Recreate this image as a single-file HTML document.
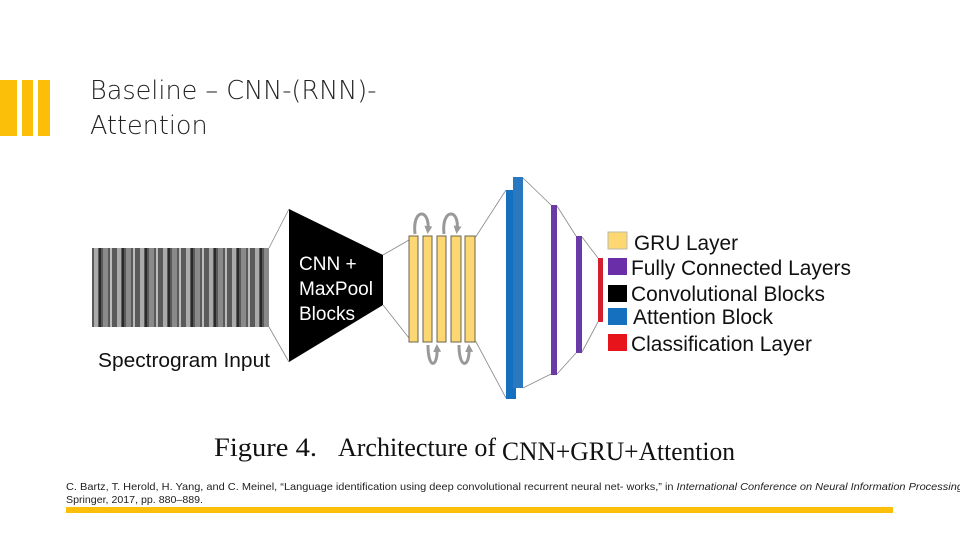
<!DOCTYPE html>
<html><head><meta charset="utf-8"><style>
html,body{margin:0;padding:0;background:#fff;}
body{width:960px;height:540px;position:relative;overflow:hidden;font-family:"Liberation Sans",sans-serif;}
.t{position:absolute;left:90px;top:74px;font-family:"DejaVu Sans","Liberation Sans",sans-serif;font-weight:300;font-size:25.5px;line-height:35px;color:#222;}
</style></head><body>
<div style="position:absolute;left:0;top:80px;width:17px;height:56px;background:#fbbf0a"></div>
<div style="position:absolute;left:22px;top:80px;width:11px;height:56px;background:#fbbf0a"></div>
<div style="position:absolute;left:38px;top:80px;width:12px;height:56px;background:#fbbf0a"></div>
<div class="t">Baseline – CNN-(RNN)-<br>Attention</div>
<svg width="960" height="540" style="position:absolute;left:0;top:0">
<defs>
<pattern id="sp" width="23" height="80" patternUnits="userSpaceOnUse">
<rect width="23" height="80" fill="#5a5a5a"/>
<rect x="2" width="4" height="80" fill="#aaa"/>
<rect x="7" width="2" height="80" fill="#2a2a2a"/>
<rect x="11" width="5" height="80" fill="#8a8a8a"/>
<rect x="18" width="2" height="80" fill="#bbb"/>
</pattern>
<marker id="ah" markerWidth="8" markerHeight="8" refX="4" refY="4" orient="auto" markerUnits="userSpaceOnUse"><path d="M0,0L8,4L0,8z" fill="#999"/></marker>
</defs>
<rect x="92" y="248" width="177" height="79" fill="url(#sp)"/>
<line x1="269" y1="248" x2="289" y2="209" stroke="#888" stroke-width="0.8"/>
<line x1="269" y1="327" x2="289" y2="362" stroke="#888" stroke-width="0.8"/>
<polygon points="289,209 383,255 383,305 289,362" fill="#000"/>
<text x="299" y="270" fill="#fff" font-size="19">CNN +</text>
<text x="299" y="295" fill="#fff" font-size="19">MaxPool</text>
<text x="299" y="320" fill="#fff" font-size="19">Blocks</text>
<text x="98" y="367" fill="#111" font-size="20" textLength="172" lengthAdjust="spacingAndGlyphs">Spectrogram Input</text>
<line x1="383" y1="255" x2="409" y2="240" stroke="#888" stroke-width="0.8"/>
<line x1="383" y1="305" x2="409" y2="338" stroke="#888" stroke-width="0.8"/>
<g fill="#fdd771" stroke="#6b6350" stroke-width="1">
<rect x="409" y="236" width="9" height="106"/>
<rect x="423" y="236" width="9" height="106"/>
<rect x="437" y="236" width="9" height="106"/>
<rect x="451" y="236" width="10" height="106"/>
<rect x="465" y="236" width="10" height="106"/>
</g>
<g fill="none" stroke="#999" stroke-width="3">
<path d="M415,234 C412,208 430,208 428,230" marker-end="url(#ah)"/>
<path d="M444,234 C441,208 460,208 457,230" marker-end="url(#ah)"/>
<path d="M428,345 C428,370 438,368 437,348" marker-end="url(#ah)"/>
<path d="M459,345 C459,370 470,368 469,348" marker-end="url(#ah)"/>
</g>
<line x1="475" y1="238" x2="506" y2="190" stroke="#888" stroke-width="0.8"/>
<line x1="475" y1="340" x2="506" y2="398" stroke="#888" stroke-width="0.8"/>
<rect x="506" y="190" width="10" height="209" fill="#1570c0"/>
<rect x="513" y="177" width="10" height="211" fill="#2a78bf"/>
<line x1="523" y1="178" x2="551" y2="205" stroke="#888" stroke-width="0.8"/>
<line x1="523" y1="388" x2="551" y2="374" stroke="#888" stroke-width="0.8"/>
<rect x="551" y="205" width="6" height="170" fill="#6a3aa8"/>
<line x1="557" y1="206" x2="576" y2="236" stroke="#888" stroke-width="0.8"/>
<line x1="557" y1="374" x2="576" y2="353" stroke="#888" stroke-width="0.8"/>
<rect x="576" y="236" width="6" height="117" fill="#6a3aa8"/>
<line x1="582" y1="237" x2="598" y2="258" stroke="#888" stroke-width="0.8"/>
<line x1="582" y1="352" x2="598" y2="322" stroke="#888" stroke-width="0.8"/>
<rect x="598" y="258" width="5" height="64" fill="#d2202e"/>
<rect x="608" y="232" width="19" height="17" fill="#fdd771" stroke="#bba" stroke-width="1"/>
<rect x="608" y="258" width="19" height="17" fill="#6a2ea8"/>
<rect x="608" y="285" width="19" height="17" fill="#000"/>
<rect x="608" y="308" width="19" height="17" fill="#1570c0"/>
<rect x="608" y="334" width="19" height="17" fill="#e8141c"/>
<g font-size="21" fill="#111" lengthAdjust="spacingAndGlyphs">
<text x="634" y="250" textLength="104" lengthAdjust="spacingAndGlyphs">GRU Layer</text>
<text x="631" y="275" textLength="220" lengthAdjust="spacingAndGlyphs">Fully Connected Layers</text>
<text x="631" y="301" textLength="194" lengthAdjust="spacingAndGlyphs">Convolutional Blocks</text>
<text x="633" y="324" textLength="140" lengthAdjust="spacingAndGlyphs">Attention Block</text>
<text x="631" y="351" textLength="181" lengthAdjust="spacingAndGlyphs">Classification Layer</text>
</g>
<text x="214" y="456" font-family="Liberation Serif" font-size="26" fill="#111" textLength="103" lengthAdjust="spacingAndGlyphs">Figure 4.</text>
<text x="338" y="456" font-family="Liberation Serif" font-size="26" fill="#111" textLength="158" lengthAdjust="spacingAndGlyphs">Architecture of</text>
<text x="502" y="460" font-family="Liberation Serif" font-size="26" fill="#111" textLength="233" lengthAdjust="spacingAndGlyphs">CNN+GRU+Attention</text>
<text x="66" y="490" font-size="10.5" fill="#222" textLength="900" lengthAdjust="spacingAndGlyphs">C. Bartz, T. Herold, H. Yang, and C. Meinel, “Language identification using deep convolutional recurrent neural net- works,” in <tspan font-style="italic">International Conference on Neural Information Processing</tspan>.</text>
<text x="66" y="503" font-size="10.5" fill="#222" textLength="137" lengthAdjust="spacingAndGlyphs">Springer, 2017, pp. 880–889.</text>
<rect x="66" y="507" width="827" height="6" fill="#fbbf0a"/>
</svg>
</body></html>
